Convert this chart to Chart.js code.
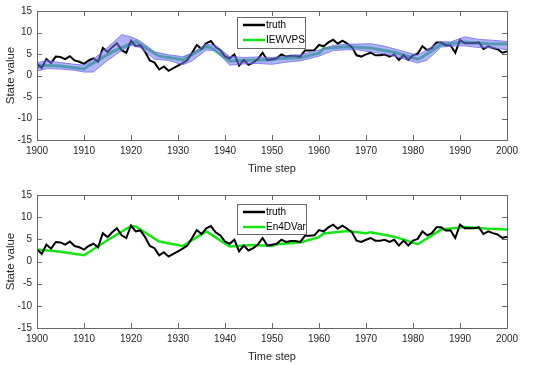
<!DOCTYPE html>
<html>
<head>
<meta charset="utf-8">
<script src="https://cdn.jsdelivr.net/npm/chart.js"></script>
<style>
  body { margin: 0; background: #fff; }
  canvas { position: absolute; left: 0; }
  #top-chart { top: 0; }
  #bottom-chart { top: 180px; }
</style>
</head>
<body>
<canvas id="top-chart" width="550" height="180"></canvas>
<canvas id="bottom-chart" width="550" height="185"></canvas>
<script>
// x axis: time steps
const years = Array.from({ length: 101 }, (_, i) => 1900 + i);

// truth state
const truth = [
  2.8, 1.7, 3.8, 2.9, 4.4, 4.3, 3.8, 4.5, 3.5, 3.2,
  2.7, 3.5, 4.0, 3.2, 6.4, 5.5, 6.6, 7.5, 5.9, 5.3,
  8.1, 6.8, 7.0, 5.5, 3.5, 3.0, 1.4, 2.1, 1.1, 1.7,
  2.3, 2.9, 3.6, 5.3, 7.1, 6.2, 7.5, 8.0, 6.6, 5.9,
  4.5, 4.0, 4.9, 2.3, 3.6, 2.5, 3.0, 3.8, 5.3, 3.6,
  3.8, 4.0, 4.9, 4.4, 4.6, 4.6, 4.4, 5.8, 5.8, 5.9,
  7.1, 6.8, 7.7, 8.3, 7.4, 8.1, 7.4, 6.6, 4.7, 4.4,
  4.9, 5.3, 4.7, 4.7, 4.9, 4.4, 4.9, 3.6, 4.7, 3.6,
  4.7, 5.1, 6.8, 5.9, 6.4, 7.7, 7.7, 7.0, 7.0, 5.3,
  8.3, 7.5, 7.5, 7.5, 7.7, 6.2, 6.8, 6.4, 6.1, 5.3,
  5.6
];

// IEWVPS mean (top panel)
const iewYears = [1900, 1901, 1905, 1910, 1911, 1916, 1921, 1926, 1931, 1936, 1937, 1941, 1946, 1950,
  1951, 1956, 1960, 1961, 1966, 1971, 1976, 1981, 1982, 1986, 1991, 1996, 2000];
const iewVals = [1.9, 2.4, 2.2, 1.5, 2.3, 5.5, 7.9, 4.5, 3.7, 6.7, 6.5, 3.4, 3.6, 3.6,
  3.9, 4.1, 5.2, 6.3, 6.7, 6.4, 5.4, 3.8, 4.3, 7.2, 7.8, 7.4, 7.3];

// ensemble spread (top panel), upper and lower edges
const ensYears = [1900, 1902, 1905, 1908, 1910, 1912, 1915, 1918, 1920, 1922, 1925, 1928, 1931, 1933,
  1936, 1938, 1941, 1944, 1947, 1950, 1953, 1956, 1960, 1963, 1966, 1968, 1971, 1974, 1977, 1981,
  1983, 1986, 1988, 1991, 1994, 1997, 2000];
const ensUpper = [2.9, 3.5, 3.0, 2.6, 2.4, 3.8, 6.5, 9.5, 9.0, 8.0, 5.5, 4.8, 4.4, 5.2,
  7.3, 7.0, 4.4, 4.2, 4.3, 4.2, 4.5, 4.8, 5.9, 7.0, 7.3, 7.3, 7.4, 6.8, 5.9, 4.7,
  6.0, 7.9, 7.8, 9.0, 8.4, 8.2, 7.9];
const ensLower = [1.0, 1.6, 1.5, 1.2, 0.8, 0.8, 3.5, 5.8, 7.0, 6.5, 3.8, 3.5, 2.5, 3.4,
  5.9, 5.8, 2.4, 2.7, 2.8, 2.6, 3.1, 3.4, 4.5, 5.8, 6.0, 6.0, 5.5, 5.0, 4.2, 2.9,
  3.6, 6.6, 6.8, 6.9, 6.5, 6.4, 6.0];

// En4DVar analysis (bottom panel)
const en4dYears = [1900, 1905, 1910, 1915, 1920, 1921, 1926, 1931, 1936, 1941, 1946, 1950, 1951,
  1956, 1960, 1961, 1966, 1970, 1971, 1976, 1981, 1986, 1991, 1996, 2000];
const en4dVals = [2.7, 2.2, 1.4, 4.8, 8.0, 7.9, 4.5, 3.5, 6.8, 3.4, 3.7, 3.5, 3.9,
  4.3, 5.5, 6.3, 6.9, 6.4, 6.6, 5.6, 3.9, 7.2, 7.8, 7.4, 7.2];

// axis ticks
const xTicks = [1900, 1910, 1920, 1930, 1940, 1950, 1960, 1970, 1980, 1990, 2000];
const yTicks = [-15, -10, -5, 0, 5, 10, 15];

const FONT = 'Liberation Sans, Arial, sans-serif';
const AXIS_COLOR = '#666';
const TEXT_COLOR = '#262626';
const GREEN = 'rgb(20,230,20)';

const toPoints = (xs, ys) => xs.map((x, i) => ({ x: x, y: ys[i] }));

// box + inward ticks, MATLAB style
const boxPlugin = {
  id: 'box',
  afterDatasetsDraw(chart) {
    const { ctx, chartArea: a, scales } = chart;
    ctx.save();
    ctx.strokeStyle = AXIS_COLOR;
    ctx.lineWidth = 1;
    ctx.strokeRect(Math.round(a.left) + 0.5, Math.round(a.top) + 0.5,
      Math.round(a.right - a.left), Math.round(a.bottom - a.top));
    ctx.beginPath();
    xTicks.forEach(v => {
      const px = Math.round(scales.x.getPixelForValue(v)) + 0.5;
      ctx.moveTo(px, a.bottom); ctx.lineTo(px, a.bottom - 5);
      ctx.moveTo(px, a.top); ctx.lineTo(px, a.top + 5);
    });
    yTicks.forEach(v => {
      const py = Math.round(scales.y.getPixelForValue(v)) + 0.5;
      ctx.moveTo(a.left, py); ctx.lineTo(a.left + 5, py);
      ctx.moveTo(a.right, py); ctx.lineTo(a.right - 5, py);
    });
    ctx.stroke();
    ctx.restore();
  }
};

// legend drawn inside the axes
const boxLegend = {
  id: 'boxLegend',
  afterDraw(chart, args, opts) {
    const { ctx } = chart;
    ctx.save();
    ctx.fillStyle = '#fff';
    ctx.fillRect(opts.left, opts.top, opts.w, opts.h);
    ctx.strokeStyle = AXIS_COLOR;
    ctx.lineWidth = 1;
    ctx.strokeRect(opts.left + 0.5, opts.top + 0.5, opts.w, opts.h);
    ctx.font = '10px ' + FONT;
    ctx.textBaseline = 'middle';
    opts.items.forEach((it, i) => {
      const y = opts.top + opts.rowTop + i * opts.rowGap;
      ctx.strokeStyle = it.color;
      ctx.lineWidth = 2.5;
      ctx.beginPath();
      ctx.moveTo(opts.left + 6, y);
      ctx.lineTo(opts.left + 28, y);
      ctx.stroke();
      ctx.fillStyle = '#000';
      ctx.fillText(it.label, opts.left + 29, y);
    });
    ctx.restore();
  }
};

function makeOptions(padTop, xHeight, titleBottom, legendOpts) {
  return {
    responsive: false,
    animation: false,
    devicePixelRatio: 1,
    layout: { autoPadding: false, padding: { left: 0, right: 43, top: padTop, bottom: 0 } },
    plugins: {
      legend: { display: false },
      tooltip: { enabled: false },
      boxLegend: legendOpts
    },
    elements: { point: { radius: 0 }, line: { tension: 0 } },
    scales: {
      x: {
        type: 'linear', min: 1900, max: 2000,
        afterFit: s => { s.height = xHeight; },
        afterBuildTicks: s => { s.ticks = xTicks.map(v => ({ value: v })); },
        ticks: { color: TEXT_COLOR, font: { family: FONT, size: 10 }, padding: 5, maxRotation: 0,
          callback: v => String(v) },
        grid: { display: false, drawTicks: false },
        border: { display: false },
        title: { display: true, text: 'Time step', color: TEXT_COLOR, font: { family: FONT, size: 11 }, padding: { top: 0, bottom: titleBottom } }
      },
      y: {
        min: -15, max: 15,
        afterFit: s => { s.width = 37; },
        afterBuildTicks: s => { s.ticks = yTicks.map(v => ({ value: v })); },
        ticks: { color: TEXT_COLOR, font: { family: FONT, size: 10 }, padding: 5 },
        grid: { display: false, drawTicks: false },
        border: { display: false },
        title: { display: true, text: 'State value', color: TEXT_COLOR, font: { family: FONT, size: 11.5 }, padding: { top: 4, bottom: 0 } }
      }
    }
  };
}

new Chart(document.getElementById('top-chart'), {
  type: 'line',
  data: {
    datasets: [
      {
        label: 'ensemble upper',
        data: toPoints(ensYears, ensUpper),
        borderColor: 'rgba(100,100,235,0.75)', borderWidth: 1,
        backgroundColor: 'rgba(115,115,240,0.55)',
        fill: '+1'
      },
      {
        label: 'ensemble lower',
        data: toPoints(ensYears, ensLower),
        borderColor: 'rgba(100,100,235,0.75)', borderWidth: 1,
        fill: false
      },
      {
        label: 'truth',
        data: toPoints(years, truth),
        borderColor: '#000', borderWidth: 2, fill: false
      },
      {
        label: 'IEWVPS',
        data: toPoints(iewYears, iewVals),
        borderColor: 'rgb(45,205,110)', borderWidth: 3, fill: false
      }
    ]
  },
  options: makeOptions(8, 40, 4, {
    left: 237, top: 17, w: 68, h: 31, rowTop: 8, rowGap: 15,
    items: [{ label: 'truth', color: '#000' }, { label: 'IEWVPS', color: GREEN }]
  }),
  plugins: [boxPlugin, boxLegend]
});

new Chart(document.getElementById('bottom-chart'), {
  type: 'line',
  data: {
    datasets: [
      {
        label: 'truth',
        data: toPoints(years, truth),
        borderColor: '#000', borderWidth: 2, fill: false
      },
      {
        label: 'En4DVar',
        data: toPoints(en4dYears, en4dVals),
        borderColor: GREEN, borderWidth: 2.5, fill: false
      }
    ]
  },
  options: makeOptions(15, 37, 1, {
    left: 237, top: 24, w: 69, h: 30, rowTop: 8, rowGap: 15,
    items: [{ label: 'truth', color: '#000' }, { label: 'En4DVar', color: GREEN }]
  }),
  plugins: [boxPlugin, boxLegend]
});
</script>
</body>
</html>
